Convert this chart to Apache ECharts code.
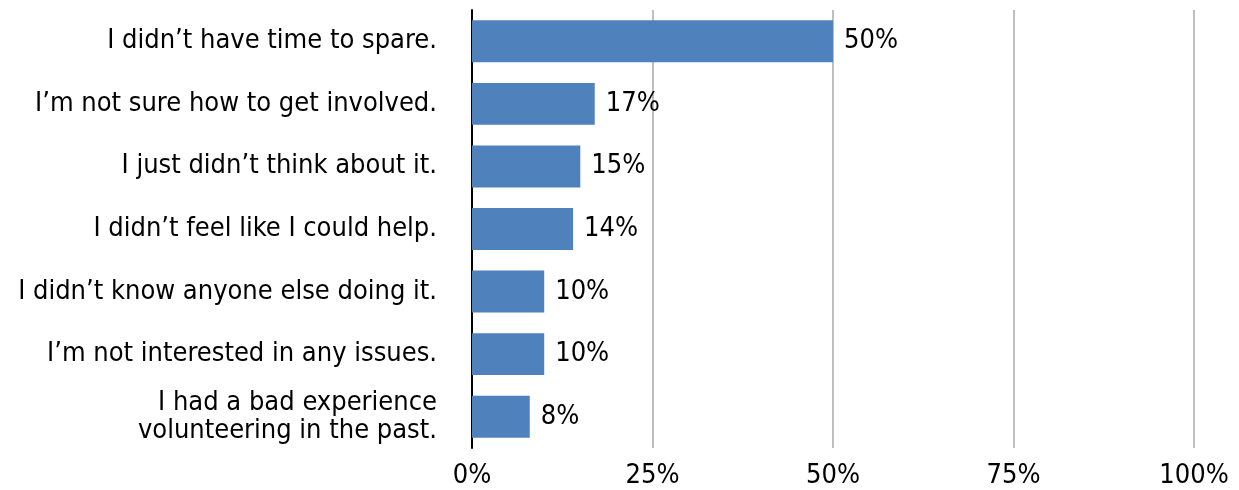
<!DOCTYPE html>
<html>
<head>
    <meta charset="utf-8">
    <title>Reasons</title>
    <script src="https://cdn.jsdelivr.net/npm/echarts@6/dist/echarts.min.js"></script>
    <style>
        html, body { margin: 0; padding: 0; background: #ffffff; }
        #chart { width: 1239px; height: 490px; }
    </style>
</head>
<body>
<div id="chart"></div>
<script>
    var categories = [
        'I didn\u2019t have time to spare.',
        'I\u2019m not sure how to get involved.',
        'I just didn\u2019t think about it.',
        'I didn\u2019t feel like I could help.',
        'I didn\u2019t know anyone else doing it.',
        'I\u2019m not interested in any issues.',
        'I had a bad experience\nvolunteering in the past.'
    ];
    var values = [50, 17, 15, 14, 10, 10, 8];
    var tickStep = 25;

    var font = '"Liberation Sans Narrow", "DejaVu Sans Condensed", "Liberation Sans", sans-serif';

    var chart = echarts.init(document.getElementById('chart'));
    chart.setOption({
        animation: false,
        grid: { left: 472, right: 45, top: 10, bottom: 42 },
        xAxis: {
            type: 'value',
            min: 0,
            max: 100,
            interval: tickStep,
            axisLine: { show: false },
            axisTick: { show: false },
            splitLine: { lineStyle: { color: '#bfbfbf', width: 2 } },
            axisLabel: {
                formatter: '{value}%',
                color: '#000',
                fontFamily: font,
                fontSize: 27,
                margin: 14
            }
        },
        yAxis: {
            type: 'category',
            inverse: true,
            data: categories,
            axisLine: { show: true, lineStyle: { color: '#000', width: 2 } },
            axisTick: { show: false },
            axisLabel: {
                color: '#000',
                fontFamily: font,
                fontSize: 27,
                lineHeight: 28,
                margin: 35,
                align: 'right'
            }
        },
        series: [{
            type: 'bar',
            data: values,
            barWidth: '67%',
            itemStyle: { color: '#4f81bd' },
            label: {
                show: true,
                position: 'right',
                distance: 11,
                formatter: '{c}%',
                color: '#000',
                fontFamily: font,
                fontSize: 27
            }
        }]
    });
</script>
</body>
</html>
